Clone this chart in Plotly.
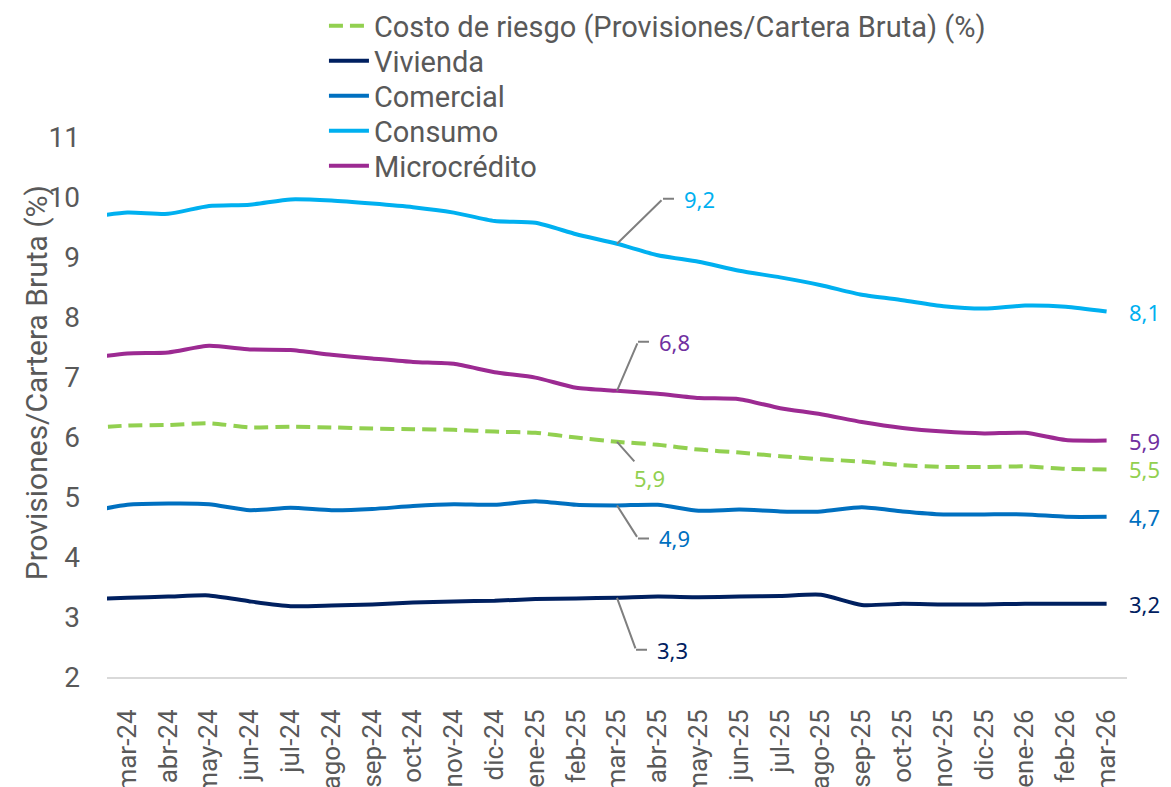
import plotly.graph_objects as go

# ---------------- data ----------------
meses = ["feb-24", "mar-24", "abr-24", "may-24", "jun-24", "jul-24", "ago-24", "sep-24",
         "oct-24", "nov-24", "dic-24", "ene-25", "feb-25", "mar-25", "abr-25", "may-25",
         "jun-25", "jul-25", "ago-25", "sep-25", "oct-25", "nov-25", "dic-25", "ene-26",
         "feb-26", "mar-26"]

costo_riesgo = [6.15, 6.19, 6.20, 6.23, 6.16, 6.17, 6.16, 6.14, 6.13, 6.12, 6.09, 6.07, 5.99,
                5.92, 5.87, 5.79, 5.74, 5.68, 5.63, 5.59, 5.53, 5.50, 5.50, 5.51, 5.47, 5.46]
vivienda = [3.30, 3.32, 3.34, 3.36, 3.26, 3.18, 3.19, 3.21, 3.24, 3.26, 3.27, 3.30, 3.31,
            3.32, 3.34, 3.33, 3.34, 3.35, 3.37, 3.20, 3.22, 3.21, 3.21, 3.22, 3.22, 3.22]
comercial = [4.75, 4.87, 4.89, 4.88, 4.78, 4.82, 4.78, 4.80, 4.85, 4.88, 4.87, 4.93, 4.87,
             4.86, 4.87, 4.77, 4.79, 4.76, 4.76, 4.83, 4.76, 4.71, 4.71, 4.71, 4.67, 4.67]
consumo = [9.66, 9.74, 9.72, 9.85, 9.87, 9.96, 9.94, 9.89, 9.83, 9.74, 9.60, 9.57, 9.38,
           9.22, 9.03, 8.92, 8.77, 8.66, 8.53, 8.37, 8.28, 8.18, 8.14, 8.19, 8.17, 8.09]
microcredito = [7.31, 7.39, 7.41, 7.52, 7.46, 7.45, 7.37, 7.31, 7.25, 7.22, 7.08, 6.99, 6.82,
                6.77, 6.72, 6.65, 6.63, 6.48, 6.38, 6.25, 6.15, 6.09, 6.06, 6.07, 5.95, 5.94]

nombres = ["Costo de riesgo (Provisiones/Cartera Bruta) (%)", "Vivienda", "Comercial",
           "Consumo", "Microcrédito"]
y_titulo = "Provisiones/Cartera Bruta (%)"
mes_destacado = "mar-25"
mes_final = "mar-26"

# ---------------- style ----------------
FONT = "Roboto"
LABEL_FONT = "Noto Sans"
GRAY = "#595959"
LEADER = "#7F7F7F"
colores = {
    "costo": "#92D050",
    "vivienda": "#002060",
    "comercial": "#0070C0",
    "consumo": "#00B0F0",
    "micro": "#9C2A92",
}
label_colores = {
    "costo": "#92D050",
    "vivienda": "#002060",
    "comercial": "#0070C0",
    "consumo": "#00B0F0",
    "micro": "#7030A0",
}

series = [
    ("costo", nombres[0], costo_riesgo, dict(dash="14px,7px")),
    ("vivienda", nombres[1], vivienda, dict()),
    ("comercial", nombres[2], comercial, dict()),
    ("consumo", nombres[3], consumo, dict()),
    ("micro", nombres[4], microcredito, dict()),
]

# figure geometry (page body has an 8px margin)
W, H = 1163, 779
ML, MR, MT, MB = 99, 44, 129, 110
plot_h = H - MT - MB

legend_ids = ["legend", "legend2", "legend3", "legend4", "legend5"]
legend_row_px = [18, 53, 88, 123, 158]   # row centres, px from figure top

fig = go.Figure()
for (key, name, vals, extra), lid in zip(series, legend_ids):
    fig.add_trace(go.Scatter(
        x=meses, y=vals, name=name, mode="lines", legend=lid,
        line=dict(color=colores[key], width=4, shape="spline", smoothing=0.6, **extra),
    ))


def fmt(v):
    return f"{v:.1f}".replace(".", ",")


annotations = []
idx_d = meses.index(mes_destacado)
idx_f = meses.index(mes_final)

# leader lines with elbow for highlighted month: (key, values, elbow dx, elbow dy(px, up +))
elbow_specs = [
    ("consumo", consumo, 46, 45),
    ("micro", microcredito, 21, 49),
    ("comercial", comercial, 21, -33),
    ("vivienda", vivienda, 19, -52),
]
for key, vals, dx, dy in elbow_specs:
    v = vals[idx_d]
    annotations.append(dict(
        x=mes_destacado, y=v, xref="x", yref="y", text="", showarrow=True,
        arrowhead=0, arrowwidth=2, arrowcolor=LEADER, ax=dx, ay=-dy, standoff=0,
    ))
    annotations.append(dict(
        x=mes_destacado, y=v, xref="x", yref="y", xshift=dx, yshift=dy,
        text=fmt(v), showarrow=True, arrowhead=0, arrowwidth=2, arrowcolor=LEADER,
        ax=36, ay=0, startstandoff=8, standoff=0,
        font=dict(family=LABEL_FONT, size=22, color=label_colores[key]),
    ))

annotations.append(dict(
    x=mes_destacado, y=costo_riesgo[idx_d], xref="x", yref="y",
    text=fmt(costo_riesgo[idx_d]), showarrow=True, arrowhead=0, arrowwidth=2,
    arrowcolor=LEADER, ax=32, ay=36, standoff=0,
    font=dict(family=LABEL_FONT, size=22, color=label_colores["costo"]),
))

for key, name, vals, extra in series:
    annotations.append(dict(
        x=mes_final, y=vals[idx_f], xref="x", yref="y", text=fmt(vals[idx_f]),
        showarrow=False, xanchor="left", yanchor="middle", xshift=20,
        font=dict(family=LABEL_FONT, size=22, color=label_colores[key]),
    ))

# y-axis title (placed slightly above the axis centre, as in the reference)
annotations.append(dict(
    text=y_titulo, xref="paper", yref="paper", x=0, y=0.544, xshift=-71,
    xanchor="center", yanchor="middle", textangle=-90, showarrow=False,
    font=dict(family=FONT, size=30, color=GRAY),
))

legend_style = dict(
    x=0.2127, xanchor="left", yanchor="middle",
    font=dict(family=FONT, size=29, color=GRAY),
    bgcolor="rgba(0,0,0,0)", itemwidth=40,
)
legend_layout = {}
for lid, ry in zip(legend_ids, legend_row_px):
    legend_layout[lid] = dict(legend_style, y=(H - MB - ry) / plot_h)

fig.update_layout(
    width=W, height=H,
    margin=dict(l=ML, r=MR, t=MT, b=MB, autoexpand=False),
    paper_bgcolor="white", plot_bgcolor="white",
    font=dict(family=FONT, size=24, color=GRAY),
    showlegend=True,
    annotations=annotations,
    **legend_layout,
)

fig.update_xaxes(
    type="category", categoryorder="array", categoryarray=meses,
    range=[0.5, len(meses) - 0.5], tickangle=-90,
    showline=True, linecolor="#D9D9D9", linewidth=2,
    showgrid=False, zeroline=False, ticks="",
    tickfont=dict(family=FONT, size=26, color=GRAY),
    ticklabelstandoff=20, automargin=False,
)
fig.update_yaxes(
    range=[2, 11], dtick=1, showgrid=False, zeroline=False, showline=False,
    ticks="", tickfont=dict(family=FONT, size=28, color=GRAY),
    ticklabelstandoff=26, automargin=False,
)

fig.write_html("out.html")
